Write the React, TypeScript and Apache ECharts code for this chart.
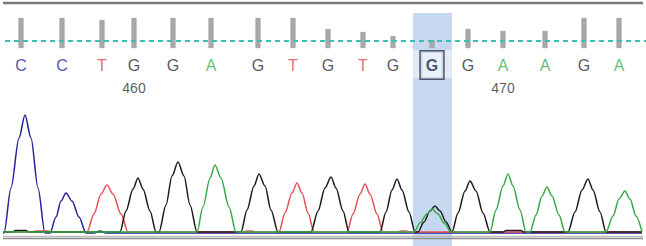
import React, { useEffect, useRef } from "react";
import * as echarts from "echarts";

// Called bases (sequence positions 457..473)
const BASES = ["C", "C", "T", "G", "G", "A", "G", "T", "G", "T", "G", "G", "G", "A", "A", "G", "A"];
const BASE_X = [21, 62, 102, 134, 173, 211, 258, 293, 328, 363, 393, 432, 468, 503, 545, 584, 619];
const QUALITY = [30, 30, 28, 30, 30, 30, 30, 30, 19, 16, 12, 8, 19, 17, 17, 30, 30];
const SELECTED_INDEX = 11;

const TICK_LABELS = ["460", "470"];
const TICK_X = [134, 503];

const HIGHLIGHT_X = [413, 452];
const QUALITY_THRESHOLD = 7;

// Trace intensities [scan, signal]
const TRACE_C = [
  [3, -1], [4, -1], [11, 44], [19, 94], [25, 117], [31, 94], [38, 44], [45, -1],
  [50, -1], [56, 15], [61, 31], [66, 39], [72, 31], [79, 15], [86, -1],
  [94, -1], [100, 1], [106, -1], [642, -1],
];
const TRACE_T = [
  [3, 0], [33, 0], [36, 1], [48, 1], [51, 0],
  [87, 0], [94, 18], [101, 38], [107, 47], [113, 38], [121, 18], [128, 0],
  [244, 0], [247, 1], [252, 1], [255, 0],
  [279, 0], [285, 19], [292, 39], [297, 49], [302, 39], [308, 19], [314, 0],
  [347, 0], [353, 18], [360, 38], [365, 48], [370, 38], [377, 18], [383, 0],
  [398, 0], [401, 1], [406, 1], [409, 0], [642, 0],
];
const TRACE_G = [
  [3, 0], [13, 0], [15, 1.5], [26, 1.5], [29, 0],
  [120, 0], [126, 21], [133, 43], [138, 54], [143, 43], [150, 21], [156, 0],
  [159, 0], [166, 27], [172, 56], [178, 70], [184, 56], [190, 27], [197, 0],
  [241, 0], [247, 22], [254, 46], [259, 58], [265, 46], [271, 22], [278, 0],
  [311, 0], [318, 21], [325, 44], [331, 55], [336, 44], [343, 21], [349, 0],
  [380, 0], [386, 20], [392, 42], [397, 53], [402, 42], [409, 20], [415, 0],
  [418, 0], [424, 10], [430, 21], [435, 26], [440, 21], [446, 10], [452, 0],
  [458, 19], [465, 41], [470, 51], [476, 41], [483, 19], [490, 0],
  [503, 0], [506, 1.5], [521, 1.5], [524, 0],
  [568, 0], [575, 20], [582, 42], [588, 53], [593, 42], [600, 20], [606, 0],
  [642, 0],
];
const TRACE_A = [
  [3, 0], [197, 0], [203, 25], [210, 54], [215, 67], [221, 54], [229, 25], [236, 0],
  [414, 0], [420, 9], [427, 18], [432, 23], [438, 18], [444, 9], [451, 0],
  [490, 0], [496, 22], [503, 46], [508, 58], [513, 46], [520, 22], [526, 0],
  [530, 0], [536, 17], [542, 36], [547, 45], [552, 36], [559, 17], [565, 0],
  [606, 0], [613, 16], [619, 33], [625, 41], [630, 33], [636, 16], [642, 0],
];

const BASE_COLORS: Record<string, string> = {
  A: "#3fae4a",
  C: "#27279a",
  G: "#2b2b2b",
  T: "#e0454d",
};
const TRACE_COLORS = { A: "#38a946", C: "#22229a", G: "#1c1c1c", T: "#e5505a" };

const FONT = "'Liberation Sans', Arial, sans-serif";

export default function App() {
  const ref = useRef<HTMLDivElement>(null);

  useEffect(() => {
    if (!ref.current) return;
    const chart = echarts.init(ref.current, undefined, { renderer: "svg" });

    const traceSeries = (name: string, data: number[][], color: string, extra: any = {}) => ({
      type: "line",
      name,
      xAxisIndex: 0,
      yAxisIndex: 0,
      data,
      showSymbol: false,
      symbol: "none",
      smooth: 0.3,
      smoothMonotone: "x",
      lineStyle: { color, width: 1.5 },
      z: 3,
      ...extra,
    });

    const letterData = BASES.map((b, i) => {
      const selected = i === SELECTED_INDEX;
      return {
        value: [BASE_X[i], 167],
        label: selected
          ? {
              color: "#1f2a44",
              fontWeight: "bold",
              backgroundColor: "#eef3fb",
              borderColor: "#2b3350",
              borderWidth: 1.5,
              padding: [6, 5, 5, 5],
            }
          : { color: BASE_COLORS[b] },
      };
    });

    chart.setOption({
      animation: false,
      grid: [
        { left: 0, right: 0, top: 13, bottom: 0 },
        { left: 0, right: 0, top: 8, height: 40 },
      ],
      xAxis: [
        { type: "value", min: 0, max: 646, show: false, gridIndex: 0 },
        { type: "value", min: 0, max: 646, show: false, gridIndex: 1 },
      ],
      yAxis: [
        { type: "value", min: -14, max: 219, show: false, gridIndex: 0 },
        { type: "value", min: 0, max: 40, show: false, gridIndex: 1 },
      ],
      graphic: [
        {
          type: "line",
          z: 100,
          shape: { x1: 3, y1: 3, x2: 643, y2: 3 },
          style: { stroke: "#7a7a7a", lineWidth: 2.5 },
        },
        {
          type: "line",
          z: 100,
          shape: { x1: 3, y1: 236.5, x2: 643, y2: 236.5 },
          style: { stroke: "#bcbcbc", lineWidth: 1.5 },
        },
        {
          type: "line",
          z: 100,
          shape: { x1: 3, y1: 238.5, x2: 643, y2: 238.5 },
          style: { stroke: "#8e8e8e", lineWidth: 1.5 },
        },
      ],
      series: [
        traceSeries("C", TRACE_C, TRACE_COLORS.C, {
          markArea: {
            silent: true,
            label: { show: false },
            data: [
              [
                { xAxis: HIGHLIGHT_X[0], yAxis: -14, itemStyle: { color: "#c6d8f0" } },
                { xAxis: HIGHLIGHT_X[1], yAxis: 219 },
              ],
              [
                { xAxis: HIGHLIGHT_X[0], yAxis: 154, itemStyle: { color: "#e0eaf7" } },
                { xAxis: HIGHLIGHT_X[1], yAxis: 182 },
              ],
            ],
          },
        }),
        traceSeries("T", TRACE_T, TRACE_COLORS.T),
        traceSeries("G", TRACE_G, TRACE_COLORS.G),
        traceSeries("A", TRACE_A, TRACE_COLORS.A),
        {
          type: "bar",
          name: "quality",
          xAxisIndex: 1,
          yAxisIndex: 1,
          barWidth: 5,
          data: BASE_X.map((x, i) => [x, QUALITY[i]]),
          itemStyle: { color: "#a9a9a9", borderColor: "#8f8f8f", borderWidth: 0.5 },
          z: 3,
          markLine: {
            silent: true,
            symbol: "none",
            label: { show: false },
            lineStyle: { color: "#3dbdb5", type: [5, 4], width: 2 },
            data: [[{ coord: [5, QUALITY_THRESHOLD] }, { coord: [646, QUALITY_THRESHOLD] }]],
          },
        },
        {
          type: "scatter",
          name: "bases",
          xAxisIndex: 0,
          yAxisIndex: 0,
          symbolSize: 1,
          itemStyle: { color: "rgba(0,0,0,0)" },
          z: 6,
          label: {
            show: true,
            position: "inside",
            formatter: (p: any) => BASES[p.dataIndex],
            fontSize: 16,
            fontFamily: FONT,
          },
          data: letterData,
        },
        {
          type: "scatter",
          name: "ticks",
          xAxisIndex: 0,
          yAxisIndex: 0,
          symbolSize: 1,
          itemStyle: { color: "rgba(0,0,0,0)" },
          z: 6,
          label: {
            show: true,
            position: "inside",
            formatter: (p: any) => TICK_LABELS[p.dataIndex],
            fontSize: 14,
            color: "#333",
            fontFamily: FONT,
          },
          data: TICK_X.map((x) => [x, 144]),
        },
      ],
    });

    return () => chart.dispose();
  }, []);

  return (
    <div
      ref={ref}
      style={{ position: "fixed", left: 0, top: 0, width: 646, height: 246, background: "#fff" }}
    />
  );
}
